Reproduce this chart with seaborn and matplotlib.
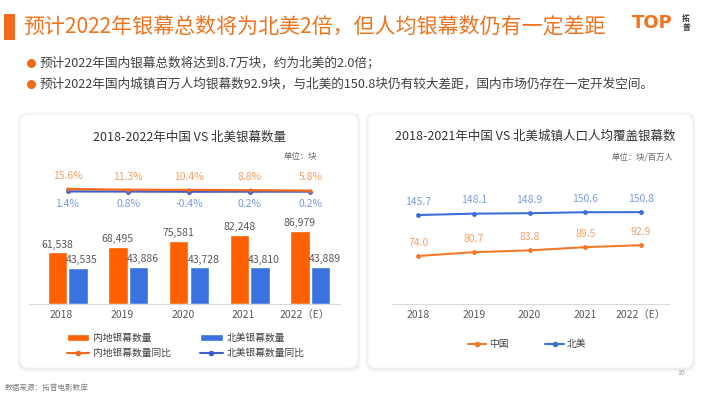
import numpy as np
import pandas as pd
import seaborn as sns
import matplotlib.pyplot as plt
from matplotlib.patches import FancyBboxPatch, Rectangle, Patch
from matplotlib.lines import Line2D

# data
years = ['2018', '2019', '2020', '2021', '2022（E）']
cn_screens = [61538, 68495, 75581, 82248, 86979]
na_screens = [43535, 43886, 43728, 43810, 43889]
cn_yoy = [15.6, 11.3, 10.4, 8.8, 5.8]
na_yoy = [1.4, 0.8, -0.4, 0.2, 0.2]
cn_per_million = [74.0, 80.7, 83.8, 89.5, 92.9]
na_per_million = [145.7, 148.1, 148.9, 150.6, 150.8]

sns.set_style('white')
plt.rcParams['font.family'] = ['Noto Sans CJK SC', 'DejaVu Sans']
plt.rcParams['axes.unicode_minus'] = False

ORANGE = '#FF6000'
BLUE = '#3A72E0'
TITLE_OR = '#F0731E'

W, H = 710, 399
def fx(x):
    return x / W
def fy(y):
    return 1 - y / H

fig = plt.figure(figsize=(7.1, 3.99), dpi=100)
fig.patch.set_facecolor('white')

# header
fig.add_artist(Rectangle((fx(4), fy(40)), fx(11), 26 / H, transform=fig.transFigure,
                         facecolor='#F26B1D', edgecolor='none'))
fig.text(fx(23), fy(27), '预计2022年银幕总数将为北美2倍，但人均银幕数仍有一定差距',
         fontsize=15.1, color=TITLE_OR, va='center', ha='left')
fig.text(fx(652), fy(23), 'TOP', fontsize=13, fontweight='bold', color=TITLE_OR,
         va='center', ha='center', family=['DejaVu Sans'])
fig.text(fx(686), fy(23), '拓\n普', fontsize=5.5, color='#333333', va='center', ha='center',
         linespacing=1.1, fontweight='bold')

bullets = ['预计2022年国内银幕总数将达到8.7万块，约为北美的2.0倍；',
           '预计2022年国内城镇百万人均银幕数92.9块，与北美的150.8块仍有较大差距，国内市场仍存在一定开发空间。']
for i, b in enumerate(bullets):
    yy = 63 + 21 * i
    fig.add_artist(Line2D([fx(31)], [fy(yy)], marker='o', markersize=6.5, color='#F26B1D',
                          markeredgewidth=0, transform=fig.transFigure))
    fig.text(fx(40), fy(yy), b, fontsize=9.1, color='#404040', va='center', ha='left')

# cards
def card(x0, y0, x1, y1):
    for k, a in [(3, 0.015), (2, 0.025), (1, 0.035)]:
        fig.add_artist(FancyBboxPatch((fx(x0 - k), fy(y1 + k + 1)), (x1 - x0 + 2 * k) / W,
                                      (y1 - y0 + 2 * k) / H,
                                      boxstyle='round,pad=0,rounding_size=0.012',
                                      mutation_aspect=W / H, transform=fig.transFigure,
                                      facecolor='#000000', alpha=a, edgecolor='none', zorder=0))
    fig.add_artist(FancyBboxPatch((fx(x0), fy(y1)), (x1 - x0) / W, (y1 - y0) / H,
                                  boxstyle='round,pad=0,rounding_size=0.012',
                                  mutation_aspect=W / H, transform=fig.transFigure,
                                  facecolor='white', edgecolor='#F2F2F2', linewidth=0.5, zorder=0))

card(20, 114, 358, 368)
card(368, 114, 693, 368)

# left chart
ax1 = fig.add_axes([fx(29), fy(304), 311 / W, 144 / H])
ax1.patch.set_alpha(0)
df = pd.DataFrame({
    'year': years * 2,
    'count': cn_screens + na_screens,
    'region': ['内地银幕数量'] * 5 + ['北美银幕数量'] * 5,
})
sns.barplot(data=df, x='year', y='count', hue='region', palette=[ORANGE, BLUE],
            width=0.68, gap=0.06, ax=ax1, legend=False, saturation=1)
for cont, vals, dx in zip(ax1.containers, [cn_screens, na_screens], [0, 3]):
    txts = ax1.bar_label(cont, labels=[f'{v:,}' for v in vals], padding=2, fontsize=7.5,
                         color='#595959')
    for t in txts:
        t.set_x(t.get_position()[0])
        t.xyann = (dx, t.xyann[1])
ax1.set_ylim(0, 172000)
ax1.set_xlim(-0.635, 4.49)
ax1.set_xlabel('')
ax1.set_ylabel('')
ax1.set_yticks([])
ax1.set_xticks(np.arange(5) - 0.1)
ax1.set_xticklabels(years, fontsize=7.5, color='#595959')
ax1.tick_params(axis='x', length=0, pad=4)
for s in ['top', 'right', 'left']:
    ax1.spines[s].set_visible(False)
ax1.spines['bottom'].set_color('#D9D9D9')

ax1b = ax1.twinx()
sns.lineplot(x=np.arange(5), y=na_yoy, color='#3F5FD0', marker='o', markersize=3.5,
             markeredgewidth=0, linewidth=1.6, ax=ax1b)
sns.lineplot(x=np.arange(5), y=cn_yoy, color='#F26B1D', marker='o', markersize=3,
             markeredgewidth=0, linewidth=1.6, ax=ax1b)
ax1b.set_ylim(-660, 186)
ax1b.axis('off')
for i in range(5):
    ax1b.annotate(f'{cn_yoy[i]}%', (i, cn_yoy[i]), xytext=(0, 9.5), textcoords='offset points',
                  ha='center', va='center', fontsize=7.5, color='#F5A165')
    ax1b.annotate(f'{na_yoy[i]}%', (i, na_yoy[i]), xytext=(0, -9), textcoords='offset points',
                  ha='center', va='center', fontsize=7.5, color='#7A9BE0')

fig.text(fx(190), fy(137), '2018-2022年中国 VS 北美银幕数量', fontsize=9, color='#333333',
         ha='center', va='center')
fig.text(fx(317), fy(157), '单位：块', fontsize=6, color='#666666', ha='right', va='center')

h = [Patch(facecolor=ORANGE), Line2D([], [], color='#F26B1D', marker='o', markersize=3, lw=1.5),
     Patch(facecolor=BLUE), Line2D([], [], color='#3F5FD0', marker='o', markersize=3, lw=1.5)]
lab = ['内地银幕数量', '内地银幕数量同比', '北美银幕数量', '北美银幕数量同比']
fig.legend(h, lab, ncol=2, loc='upper left', bbox_to_anchor=(fx(62), fy(328)), frameon=False,
           fontsize=7, handlelength=2.3, handleheight=0.8, columnspacing=3.0,
           labelspacing=0.55, handletextpad=0.4, labelcolor='#404040', borderpad=0)

# right chart
ax2 = fig.add_axes([fx(392), fy(304), 277 / W, 144 / H])
ax2.patch.set_alpha(0)
sns.lineplot(x=np.arange(5), y=cn_per_million, color='#F07A2A', marker='o', markersize=3.5,
             markeredgewidth=0, linewidth=1.5, ax=ax2)
sns.lineplot(x=np.arange(5), y=na_per_million, color='#3B6FD8', marker='o', markersize=3.5,
             markeredgewidth=0, linewidth=1.5, ax=ax2)
for i in range(5):
    ax2.annotate(f'{cn_per_million[i]:.1f}', (i, cn_per_million[i]), xytext=(0, 9.5),
                 textcoords='offset points', ha='center', va='center', fontsize=7.5, color='#F5A165')
    ax2.annotate(f'{na_per_million[i]:.1f}', (i, na_per_million[i]), xytext=(0, 9.5),
                 textcoords='offset points', ha='center', va='center', fontsize=7.5, color='#7A9BE0')
ax2.set_ylim(-10, 242)
ax2.set_xlim(-0.47, 4.5)
ax2.set_yticks([])
ax2.set_xticks(np.arange(5))
ax2.set_xticklabels(years, fontsize=7.5, color='#595959')
ax2.tick_params(axis='x', length=0, pad=4)
for s in ['top', 'right', 'left']:
    ax2.spines[s].set_visible(False)
ax2.spines['bottom'].set_color('#D9D9D9')

fig.text(fx(535), fy(136), '2018-2021年中国 VS 北美城镇人口人均覆盖银幕数', fontsize=9,
         color='#333333', ha='center', va='center')
fig.text(fx(673), fy(157), '单位：块/百万人', fontsize=6, color='#666666', ha='right', va='center')

h2 = [Line2D([], [], color='#F07A2A', marker='o', markersize=3, lw=1.5),
      Line2D([], [], color='#3B6FD8', marker='o', markersize=3, lw=1.5)]
fig.legend(h2, ['中国', '北美'], ncol=2, loc='center', bbox_to_anchor=(fx(527), fy(344)),
           frameon=False, fontsize=7, handlelength=1.9, columnspacing=3.8,
           handletextpad=0.3, labelcolor='#404040')

# footer
fig.text(fx(5), fy(388), '数据来源：拓普电影数库', fontsize=5.5, color='#808080', ha='left', va='center')
fig.text(fx(681), fy(373), '10', fontsize=5, color='#999999', ha='center', va='center')

fig.savefig('out.png', dpi=100)
